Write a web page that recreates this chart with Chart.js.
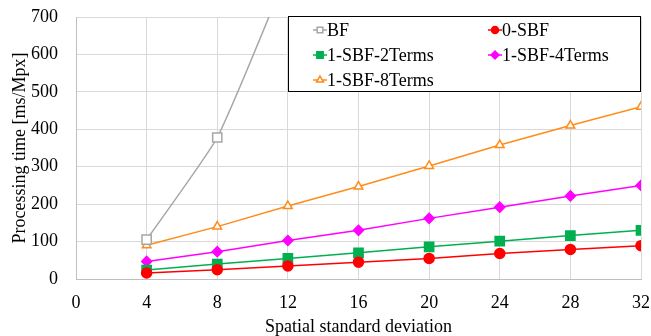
<!DOCTYPE html>
<html>
<head>
<meta charset="utf-8">
<script src="https://cdn.jsdelivr.net/npm/chart.js@4/dist/chart.umd.min.js"></script>
<style>
  html, body { margin: 0; padding: 0; background: #fff; }
  #wrap { width: 651px; height: 336px; }
</style>
</head>
<body>
<div id="wrap"><canvas id="myChart" width="651" height="336"></canvas></div>
<script>
// sigma values on x axis
var sigmas = [4, 8, 12, 16, 20, 24, 28, 32];
var labels = ['BF', '0-SBF', '1-SBF-2Terms', '1-SBF-4Terms', '1-SBF-8Terms'];

// processing time [ms/Mpx]
var bf      = [105, 378, 830, 1450, 2250, 3250, 4400, 5800];
var sbf0    = [16, 25, 35, 45, 55, 68, 79, 89];
var sbf2    = [24, 40, 55, 70, 86, 101, 116, 130];
var sbf4    = [47, 73, 103, 130, 162, 192, 222, 250];
var sbf8    = [90, 140, 195, 247, 302, 358, 410, 460];

var yTicks = [0, 100, 200, 300, 400, 500, 600, 700];

function pts(arr) {
  return sigmas.map(function (s, i) { return { x: s, y: arr[i] }; });
}

var FONT = '"Liberation Serif", "Times New Roman", serif';

var styles = [
  { color: '#a6a6a6', fill: '#ffffff', shape: 'rect', r: 6.5, lr: 4, tension: 0.15 },
  { color: '#ff0000', fill: '#ff0000', shape: 'circle', r: 5, lr: 3.5, tension: 0 },
  { color: '#00b050', fill: '#00b050', shape: 'rect', r: 6.5, lr: 4.5, tension: 0 },
  { color: '#ff00ff', fill: '#ff00ff', shape: 'rectRot', r: 5, lr: 4, tension: 0 },
  { color: '#ff8c1a', fill: '#ffffff', shape: 'triangle', r: 5, lr: 4, tension: 0 }
];
var series = [bf, sbf0, sbf2, sbf4, sbf8];

var datasets = series.map(function (d, i) {
  var st = styles[i];
  return {
    label: labels[i],
    data: pts(d),
    borderColor: st.color,
    backgroundColor: st.fill,
    borderWidth: 1.5,
    pointStyle: st.shape,
    pointRadius: st.r,
    pointBorderColor: st.color,
    pointBackgroundColor: st.fill,
    pointBorderWidth: 1.5,
    tension: st.tension,
    legendRadius: st.lr
  };
});

// legend box drawn inside the plot, two columns like the original
var boxLegend = {
  id: 'boxLegend',
  afterDraw: function (chart) {
    var ctx = chart.ctx;
    var left = 288, top = 16, right = 641, bottom = 92;
    ctx.save();
    ctx.fillStyle = '#fff';
    ctx.fillRect(left, top, right - left, bottom - top);
    ctx.strokeStyle = '#000';
    ctx.lineWidth = 1;
    ctx.strokeRect(left + 0.5, top + 0.5, right - left - 1, bottom - top - 1);
    ctx.font = '18px ' + FONT;
    ctx.textBaseline = 'middle';
    ctx.fillStyle = '#000';
    var cols = [320, 495];
    var rows = [30, 55, 80];
    chart.data.datasets.forEach(function (ds, i) {
      var cx = cols[i % 2], cy = rows[Math.floor(i / 2)];
      ctx.strokeStyle = ds.borderColor;
      ctx.lineWidth = 1.5;
      ctx.beginPath();
      ctx.moveTo(cx - 7, cy);
      ctx.lineTo(cx + 7, cy);
      ctx.stroke();
      ctx.fillStyle = ds.pointBackgroundColor;
      Chart.helpers.drawPoint(ctx, {
        pointStyle: ds.pointStyle,
        radius: ds.legendRadius,
        borderWidth: 1.5,
        rotation: 0
      }, cx, cy);
      ctx.fillStyle = '#000';
      ctx.fillText(ds.label, cx + 7, cy + 1);
    });
    ctx.restore();
  }
};

var chart = new Chart(document.getElementById('myChart').getContext('2d'), {
  type: 'line',
  data: { datasets: datasets },
  options: {
    responsive: false,
    animation: false,
    layout: { autoPadding: false, padding: { top: 17, right: 10, left: 9, bottom: 0 } },
    plugins: {
      legend: { display: false },
      tooltip: { enabled: false }
    },
    scales: {
      x: {
        type: 'linear',
        min: 0,
        max: 32,
        ticks: { stepSize: 4, color: '#000', font: { family: FONT, size: 18 }, padding: 13 },
        grid: { color: '#d9d9d9', drawTicks: false },
        border: { color: '#bfbfbf' },
        title: { display: true, text: 'Spatial standard deviation', color: '#000', font: { family: FONT, size: 18, lineHeight: 1 }, padding: 0 },
        afterFit: function (a) { a.height = 57; a.paddingLeft = 0; a.paddingRight = 0; }
      },
      y: {
        min: 0,
        max: 700,
        afterBuildTicks: function (a) { a.ticks = yTicks.map(function (v) { return { value: v }; }); },
        ticks: { color: '#000', font: { family: FONT, size: 18 }, padding: 18 },
        grid: { color: '#d9d9d9', drawTicks: false },
        border: { color: '#bfbfbf' },
        title: { display: true, text: 'Processing time [ms/Mpx]', color: '#000', font: { family: FONT, size: 18 }, padding: 0 },
        afterFit: function (a) { a.width = 67; a.paddingTop = 0; a.paddingBottom = 0; }
      }
    }
  },
  plugins: [boxLegend]
});
</script>
</body>
</html>
